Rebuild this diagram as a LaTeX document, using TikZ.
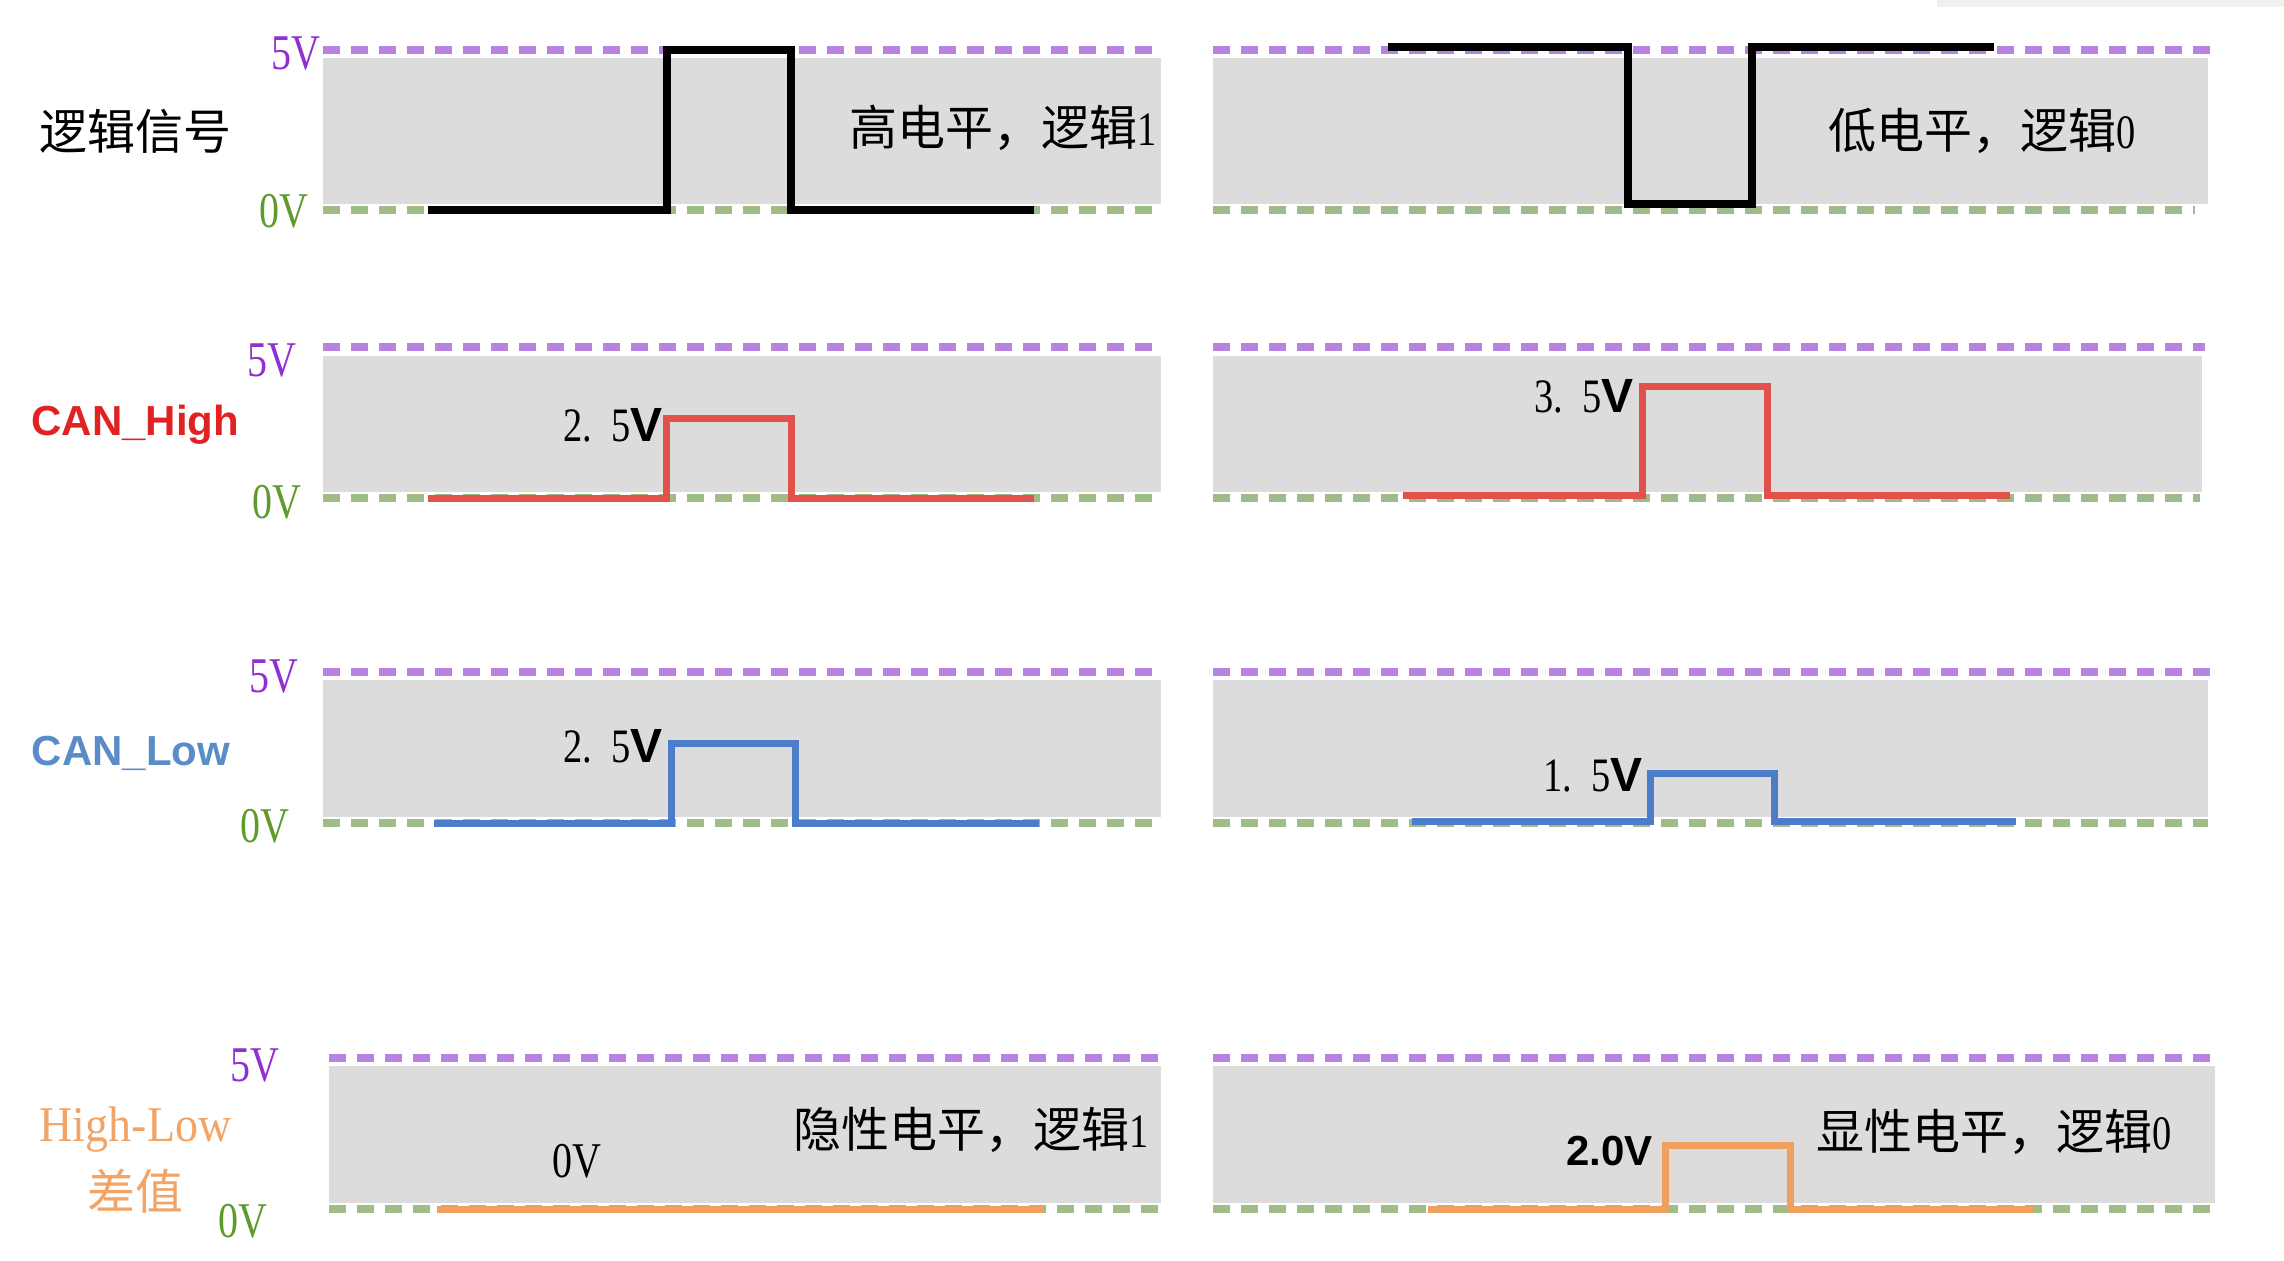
\documentclass[tikz,border=0pt]{standalone}
\usepackage{fontspec}
\usepackage{graphicx}
\setmainfont{Liberation Serif}
\setsansfont{Liberation Sans}
\newfontfamily\cjk{Noto Sans CJK SC}
\definecolor{panelgrey}{HTML}{DCDCDC}
\definecolor{purpdash}{HTML}{B883E0}
\definecolor{greendash}{HTML}{9FBB88}
\definecolor{purptext}{HTML}{9030D0}
\definecolor{greentext}{HTML}{5E9A2C}
\definecolor{sigred}{HTML}{E0524A}
\definecolor{txtred}{HTML}{E02222}
\definecolor{sigblue}{HTML}{4C7CCA}
\definecolor{txtblue}{HTML}{5A8CC8}
\definecolor{sigorange}{HTML}{EFA05E}
\definecolor{txtorange}{HTML}{F2A466}
\newcommand\cond[1]{\scalebox{0.8}[1]{#1}}
\begin{document}
\begin{tikzpicture}[x=0.5pt,y=-0.5pt,
  panel/.style={fill=panelgrey,draw=none},
  fiveline/.style={draw=purpdash,line width=4pt,dash pattern=on 8.5pt off 5.5pt},
  zeroline/.style={draw=greendash,line width=4pt,dash pattern=on 8.5pt off 5.5pt},
  sig/.style={line width=3.5pt,line join=miter,line cap=butt},
  five/.style={text=purptext,font=\fontsize{25}{28}\selectfont,inner sep=0pt},
  zero/.style={text=greentext,font=\fontsize{25}{28}\selectfont,inner sep=0pt},
  cn/.style={font=\fontsize{24}{28}\selectfont\cjk,inner sep=0pt},
  val/.style={font=\fontsize{24}{28}\selectfont,inner sep=0pt,anchor=east},
  rowlab/.style={font=\fontsize{21}{26}\selectfont\sffamily\bfseries,inner sep=0pt}]
\useasboundingbox (0,0) rectangle (2284,1260);
\fill[black!6] (1937,0) rectangle (2284,7);
% grey panels
\fill[panel] (323,58) rectangle (1161,204);
\fill[panel] (1213,58) rectangle (2208,204);
\fill[panel] (323,356) rectangle (1161,492);
\fill[panel] (1213,356) rectangle (2202,492);
\fill[panel] (323,680) rectangle (1161,817);
\fill[panel] (1213,680) rectangle (2208,817);
\fill[panel] (329,1066) rectangle (1161,1203);
\fill[panel] (1213,1066) rectangle (2215,1203);
% 5V lines
\draw[fiveline] (323,49.5) -- (1161,49.5);
\draw[fiveline] (1213,49.5) -- (2215,49.5);
\draw[fiveline] (323,347) -- (1161,347);
\draw[fiveline] (1213,347) -- (2205,347);
\draw[fiveline] (323,671.5) -- (1161,671.5);
\draw[fiveline] (1213,671.5) -- (2210,671.5);
\draw[fiveline] (329,1057.5) -- (1161,1057.5);
\draw[fiveline] (1213,1057.5) -- (2215,1057.5);
% 0V lines
\draw[zeroline] (323,210) -- (1161,210);
\draw[zeroline] (1213,210) -- (2195,210);
\draw[zeroline] (323,498) -- (1161,498);
\draw[zeroline] (1213,498) -- (2200,498);
\draw[zeroline] (323,823) -- (1161,823);
\draw[zeroline] (1213,823) -- (2208,823);
\draw[zeroline] (329,1209) -- (1161,1209);
\draw[zeroline] (1213,1209) -- (2215,1209);
% signals
\draw[sig,black,line width=4pt] (428,210) -- (667,210) -- (667,49.5) -- (791,49.5) -- (791,210) -- (1034,210);
\draw[sig,black,line width=4pt] (1388,46.5) -- (1628,46.5) -- (1628,204) -- (1752,204) -- (1752,46.5) -- (1994,46.5);
\draw[sig,sigred] (428,498) -- (666,498) -- (666,418) -- (791,418) -- (791,498) -- (1034,498);
\draw[sig,sigred] (1403,495) -- (1642,495) -- (1642,386) -- (1767,386) -- (1767,495) -- (2010,495);
\draw[sig,sigblue] (434,823) -- (671.5,823) -- (671.5,743) -- (795,743) -- (795,823) -- (1038.5,823);
\draw[sig,sigblue] (1411.5,821.5) -- (1650,821.5) -- (1650,773.5) -- (1774,773.5) -- (1774,821.5) -- (2016,821.5);
\draw[sig,sigorange] (437,1209) -- (1043,1209);
\draw[sig,sigorange] (1427.5,1209) -- (1665,1209) -- (1665,1145) -- (1790,1145) -- (1790,1209) -- (2033,1209);
% axis labels
\node[five] (f1) at (296,54) {\cond{5V}};
\node[zero] (z1) at (284,211) {\cond{0V}};
\node[five] (f2) at (272,360) {\cond{5V}};
\node[zero] (z2) at (277,502) {\cond{0V}};
\node[five] (f3) at (274,676) {\cond{5V}};
\node[zero] (z3) at (265,826) {\cond{0V}};
\node[five] (f4) at (255,1065) {\cond{5V}};
\node[zero] (z4) at (243,1221) {\cond{0V}};
% row labels
\node[cn] (r1) at (135.5,131) {逻辑信号};
\node[rowlab,text=txtred] (r2) at (135.5,425) {CAN\_High};
\node[rowlab,text=txtblue] (r3) at (131,753) {CAN\_Low};
\node[font=\fontsize{25}{28}\selectfont,text=txtorange,inner sep=0pt] (r4a) at (135.5,1130) {\scalebox{0.92}[1]{High-Low}};
\node[cn,text=txtorange] (r4b) at (135.5,1191) {差值};
% panel texts
\node[cn] (t1) at (1003.5,128) {高电平，逻辑{\rmfamily\cond{1}}};
\node[cn] (t2) at (1982.5,131) {低电平，逻辑{\rmfamily\cond{0}}};
\node[cn] (t3) at (971.5,1130) {隐性电平，逻辑{\rmfamily\cond{1}}};
\node[cn] (t4) at (1994,1132) {显性电平，逻辑{\rmfamily\cond{0}}};
% values
\node[val] (v1) at (663,425) {\cond{2.\enspace5}{\sffamily\bfseries V}};
\node[val] (v2) at (1634,396) {\cond{3.\enspace5}{\sffamily\bfseries V}};
\node[val] (v3) at (663,746) {\cond{2.\enspace5}{\sffamily\bfseries V}};
\node[val] (v4) at (1643,775) {\cond{1.\enspace5}{\sffamily\bfseries V}};
\node[val,font=\fontsize{21}{26}\selectfont\sffamily\bfseries] (v5) at (1653,1151) {2.0V};
\node[font=\fontsize{25}{28}\selectfont,inner sep=0pt] (v6) at (577,1161) {\cond{0V}};
\end{tikzpicture}
\end{document}
